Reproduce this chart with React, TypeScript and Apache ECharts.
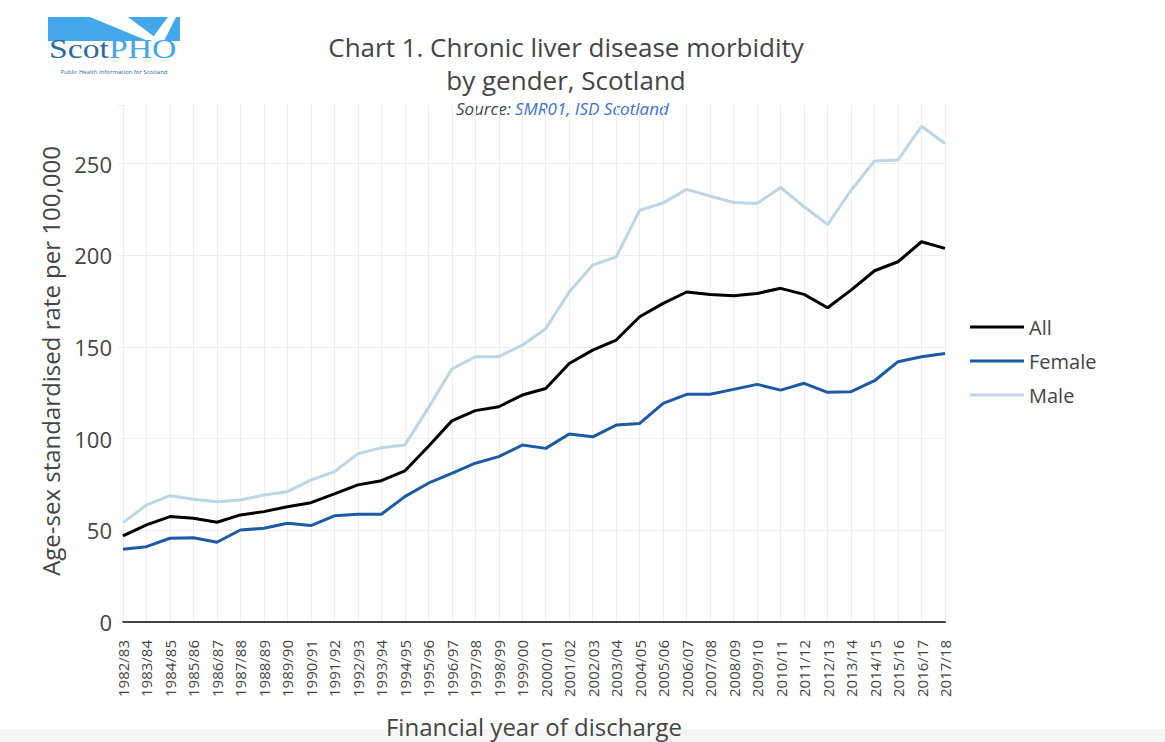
import React, { useEffect, useRef } from "react";
import * as echarts from "echarts";

const categories = [
  "1982/83", "1983/84", "1984/85", "1985/86", "1986/87", "1987/88", "1988/89", "1989/90",
  "1990/91", "1991/92", "1992/93", "1993/94", "1994/95", "1995/96", "1996/97", "1997/98",
  "1998/99", "1999/00", "2000/01", "2001/02", "2002/03", "2003/04", "2004/05", "2005/06",
  "2006/07", "2007/08", "2008/09", "2009/10", "2010/11", "2011/12", "2012/13", "2013/14",
  "2014/15", "2015/16", "2016/17", "2017/18",
];

const allValues = [
  47, 53, 57.5, 56.6, 54.4, 58.4, 60.2, 62.9, 65.1, 69.9, 74.8, 77.1, 82.4, 95.7, 109.7, 115.3,
  117.4, 123.8, 127.4, 141, 148.3, 153.8, 166.5, 173.8, 180, 178.7, 178, 179.2, 182, 178.7,
  171.4, 181, 191.6, 196.5, 207.4, 203.8,
];

const femaleValues = [
  39.7, 41.1, 45.7, 46, 43.5, 50.2, 51.1, 53.9, 52.6, 57.9, 58.8, 58.8, 68.4, 75.7, 81.1, 86.6,
  90.2, 96.5, 94.7, 102.5, 101, 107.4, 108.3, 119.2, 124.2, 124.2, 126.9, 129.6, 126.5, 130.2,
  125.3, 125.6, 131.6, 142, 144.7, 146.5,
];

const maleValues = [
  54.2, 63.8, 68.9, 66.9, 65.6, 66.5, 69.3, 71.1, 77.4, 82, 91.7, 95.1, 96.5, 116.8, 138, 144.7,
  144.7, 151, 160, 180, 194.7, 199.2, 224.6, 228.6, 236, 232.3, 228.8, 228.3, 237, 226.5, 216.8,
  235.5, 251.5, 252, 270.4, 261,
];

const seriesNames = ["All", "Female", "Male"];
const yTicks = [0, 50, 100, 150, 200, 250];

const FONT = "'Open Sans', 'Noto Sans', sans-serif";

export default function App() {
  const ref = useRef<HTMLDivElement>(null);

  useEffect(() => {
    document.body.style.margin = "0";
    if (!ref.current) return;
    const chart = echarts.init(ref.current, null, { renderer: "svg" });
    const option: any = {
      animation: false,
      backgroundColor: "#ffffff",
      grid: { left: 123, right: 220, top: 105, bottom: 120, containLabel: false },
      legend: {
        orient: "vertical",
        left: 970,
        top: 317,
        itemWidth: 54,
        itemHeight: 3,
        itemGap: 14,
        padding: 0,
        icon: "rect",
        textStyle: { fontFamily: FONT, fontSize: 20, color: "#444" },
        data: seriesNames,
      },
      xAxis: {
        type: "category",
        data: categories,
        boundaryGap: false,
        axisLine: { show: true, lineStyle: { color: "#444", width: 2 } },
        axisTick: { show: false },
        splitLine: { show: true, lineStyle: { color: "#eeeeee", width: 1 } },
        axisLabel: {
          interval: 0,
          rotate: 90,
          margin: 18,
          fontFamily: FONT,
          fontSize: 15,
          color: "#444",
        },
      },
      yAxis: {
        type: "value",
        min: 0,
        max: 282,
        interval: 50,
        axisLine: { show: false },
        axisTick: { show: true, length: 5, lineStyle: { color: "#eeeeee" } },
        splitLine: {
          show: true,
          lineStyle: {
            color: ["#eeeeee", "#eeeeee", "#eeeeee", "#eeeeee", "#eeeeee", "#eeeeee", "rgba(0,0,0,0)"],
            width: 1,
          },
        },
        axisLabel: {
          margin: 11,
          fontFamily: FONT,
          fontSize: 22,
          color: "#444",
          formatter: (v: number) => (yTicks.indexOf(v) >= 0 ? String(v) : ""),
        },
      },
      series: [
        {
          name: "All",
          type: "line",
          data: allValues,
          symbol: "none",
          lineStyle: { color: "#000000", width: 3 },
          itemStyle: { color: "#000000" },
          z: 3,
        },
        {
          name: "Female",
          type: "line",
          data: femaleValues,
          symbol: "none",
          lineStyle: { color: "#1c5aa6", width: 3 },
          itemStyle: { color: "#1c5aa6" },
          z: 3,
        },
        {
          name: "Male",
          type: "line",
          data: maleValues,
          symbol: "none",
          lineStyle: { color: "#bcd6e8", width: 3 },
          itemStyle: { color: "#bcd6e8" },
          z: 3,
        },
      ],
      graphic: [
        { type: "rect", shape: { x: 0, y: 729, width: 1165, height: 13 }, style: { fill: "#f5f5f5" }, z: -10 },
        // logo
        { type: "rect", shape: { x: 48, y: 17, width: 132, height: 24 }, style: { fill: "#43a7ea" } },
        { type: "polygon", shape: { points: [[90, 17], [128, 17], [160, 41], [148, 41]] }, style: { fill: "#ffffff" } },
        { type: "polygon", shape: { points: [[150, 41], [164, 41], [176, 17], [168, 17]] }, style: { fill: "#ffffff" } },
        {
          type: "text",
          x: 49,
          y: 63,
          scaleX: 1.25,
          style: {
            text: "{a|Scot}{b|PHO}",
            textVerticalAlign: "bottom",
            rich: {
              a: { fontFamily: "'Liberation Serif', serif", fontSize: 27, fill: "#2d6a9e", color: "#2d6a9e" },
              b: { fontFamily: "'Liberation Serif', serif", fontSize: 27, fill: "#43a7ea", color: "#43a7ea" },
            },
          },
        },
        {
          type: "text",
          x: 114,
          y: 72,
          style: {
            text: "Public Health Information for Scotland",
            fontFamily: FONT,
            fontSize: 6,
            fill: "#2d6a9e",
            textAlign: "center",
            textVerticalAlign: "middle",
          },
        },
        // title (two lines)
        {
          type: "text",
          x: 566,
          y: 63.5,
          style: {
            text: "Chart 1. Chronic liver disease morbidity\nby gender, Scotland",
            fontFamily: FONT,
            fontSize: 26,
            lineHeight: 33,
            fill: "#444",
            textAlign: "center",
            textVerticalAlign: "middle",
          },
        },
        {
          type: "text",
          x: 511,
          y: 108,
          style: {
            text: "Source:",
            textAlign: "right",
            textVerticalAlign: "middle",
            fontFamily: FONT,
            fontSize: 17,
            fontStyle: "italic",
            fill: "#444",
          },
        },
        {
          type: "text",
          x: 515,
          y: 108,
          style: {
            text: "SMR01, ISD Scotland",
            textAlign: "left",
            textVerticalAlign: "middle",
            fontFamily: FONT,
            fontSize: 17,
            fontStyle: "italic",
            fill: "#3d6fd6",
          },
        },
        {
          type: "text",
          x: 50,
          y: 361,
          rotation: Math.PI / 2,
          style: {
            text: "Age-sex standardised rate per 100,000",
            fontFamily: FONT,
            fontSize: 24,
            fill: "#444",
            textAlign: "center",
            textVerticalAlign: "middle",
          },
        },
        {
          type: "text",
          x: 534,
          y: 726,
          style: {
            text: "Financial year of discharge",
            fontFamily: FONT,
            fontSize: 24,
            fill: "#444",
            textAlign: "center",
            textVerticalAlign: "middle",
          },
        },
      ],
    };
    chart.setOption(option);
    return () => chart.dispose();
  }, []);

  return <div ref={ref} style={{ width: 1165, height: 742 }} />;
}
